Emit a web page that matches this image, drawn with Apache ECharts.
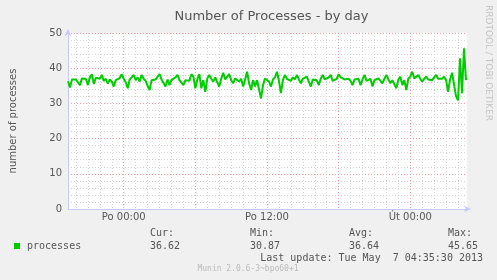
<!DOCTYPE html>
<html><head><meta charset="utf-8">
<script src="https://cdn.jsdelivr.net/npm/echarts@6/dist/echarts.min.js"></script>
<style>html,body{margin:0;padding:0;background:#f0f0f0}#c{width:497px;height:280px}</style>
</head><body><div id="c"></div><script>
// time of first sample, in hours relative to "Po 00:00", and sample step (10 min)
const startHour = -4.6667;
const stepHour = 1 / 6;
const endHour = 28.75;
const values = [
 36.3,34.5,36.8,36.8,36.8,36.8,35.2,37.1,36.6,37.0,
 35.2,37.4,38.3,35.5,37.3,36.8,37.0,38.1,36.4,37.0,
 35.6,36.8,36.2,34.8,36.6,36.3,37.2,38.3,37.0,36.0,
 34.3,36.8,37.4,38.1,36.6,37.4,36.2,38.1,37.0,36.4,
 35.0,33.8,36.6,36.8,36.8,37.0,38.3,36.8,36.4,34.8,
 36.8,35.2,36.6,36.2,37.4,38.1,36.6,36.8,35.2,36.6,
 37.0,36.4,38.3,37.6,34.3,36.8,38.3,34.3,36.6,33.3,
 37.1,38.1,37.0,36.2,37.4,36.0,34.8,37.0,38.7,36.8,
 37.6,38.3,36.6,35.7,37.1,36.6,36.2,37.0,34.8,36.8,
 39.0,35.7,33.8,36.6,34.8,36.6,36.2,31.4,35.2,37.1,
 36.6,36.2,34.8,36.8,37.4,39.0,36.4,32.9,36.6,38.1,
 37.0,37.1,36.4,37.4,36.8,38.1,36.8,35.7,37.0,36.6,
 37.6,36.2,34.8,36.8,37.0,36.6,35.2,37.0,38.1,36.8,
 36.6,37.4,38.1,36.4,36.6,37.0,38.3,37.4,37.1,36.8,
 36.6,37.0,36.4,35.2,36.8,36.6,37.0,35.2,36.8,38.1,
 36.4,36.2,37.0,34.8,36.6,36.8,37.1,36.4,35.7,37.0,
 38.1,36.8,35.7,36.6,36.2,34.3,36.8,37.6,35.2,36.6,
 33.8,37.0,37.6,39.0,37.1,36.6,38.1,37.0,36.2,37.0,
 37.6,36.8,37.1,36.6,37.4,38.1,37.0,36.8,37.0,37.6,
 36.6,33.3,36.8,38.7,39.2,32.0,30.87,42.8,32.9,45.65,
 36.62
];
const xLabelValues = [0, 12, 24];
const xLabelTexts = ['Po 00:00', 'Po 12:00', 'Út 00:00'];
const majorHours = [0, 6, 12, 18, 24];
const seriesName = 'processes';
const statLabels = ['Cur:', 'Min:', 'Avg:', 'Max:'];
const statValues = ['36.62', '30.87', '36.64', '45.65'];
const titleText = 'Number of Processes - by day';
const yAxisName = 'number of processes';
const lastUpdate = 'Last update: Tue May  7 04:35:30 2013';
const footer = 'Munin 2.0.6-3~bpo60+1';
const sideText = 'RRDTOOL / TOBI OETIKER';

const hourTicks = [];
for (let h = Math.ceil(startHour); h <= endHour; h++) hourTicks.push(h);
const data = values.map((v, i) => [startHour + i * stepHour, v]);

const green = '#00cc00';
const axisCol = '#c8c8ff';
const txt = '#555';
const mono = '"DejaVu Sans Mono", monospace';
const sans = '"DejaVu Sans", sans-serif';
const statX = [150, 250, 349, 448];

const graphics = [
  {type:'rect', shape:{x:14,y:243,width:6,height:6}, style:{fill:green}},
  {type:'text', x:27, y:246, style:{text:seriesName, font:'10px ' + mono, fill:txt, textVerticalAlign:'middle'}},
  {type:'text', x:483, y:258, style:{text:lastUpdate, font:'10px ' + mono, fill:txt, textAlign:'right', textVerticalAlign:'middle'}},
  {type:'text', x:248, y:269, style:{text:footer, font:'8px ' + mono, fill:'#bbb', textAlign:'center', textVerticalAlign:'middle'}},
  {type:'text', x:488, y:5, rotation:-Math.PI/2, style:{text:sideText, font:'9px ' + sans, fill:'#c4c4c4', textAlign:'left', textVerticalAlign:'middle'}}
];
statLabels.forEach((l, i) => {
  graphics.push({type:'text', x:statX[i], y:233, style:{text:l, font:'10px ' + mono, fill:txt, textVerticalAlign:'middle'}});
  graphics.push({type:'text', x:statX[i], y:246, style:{text:statValues[i], font:'10px ' + mono, fill:txt, textVerticalAlign:'middle'}});
});

const chart = echarts.init(document.getElementById('c'), null, {renderer:'canvas'});
chart.setOption({
  backgroundColor: '#f0f0f0',
  animation: false,
  title: {text: titleText, left: 266.5, textAlign: 'center', top: 5,
    textStyle: {fontFamily: sans, fontSize: 13, fontWeight: 'normal', color: '#555'}},
  grid: {left: 66, right: 30, top: 33, bottom: 71, show: true, backgroundColor: '#fff', borderWidth: 0},
  xAxis: [
    {type:'value', min:startHour, max:endHour, position:'bottom',
     axisLine:{show:true, onZero:false, lineStyle:{color:axisCol, width:1}, symbol:['none','arrow'], symbolSize:[5,7], symbolOffset:[0,4]},
     axisTick:{show:false, customValues:hourTicks},
     axisLabel:{show:false},
     splitLine:{show:true, lineStyle:{color:'#d4d4d4', type:[1,2], width:1}}},
    {type:'value', min:startHour, max:endHour, position:'bottom',
     axisLine:{show:false, onZero:false},
     axisTick:{show:false, customValues:majorHours},
     axisLabel:{show:true, customValues:xLabelValues, margin:3, color:txt, fontFamily:sans, fontSize:10,
       formatter: v => { const k = xLabelValues.findIndex(x => Math.abs(x - v) < 1e-6); return k >= 0 ? xLabelTexts[k] : ''; }},
     splitLine:{show:true, lineStyle:{color:'#f5a0a0', type:[1,2], width:1}}}
  ],
  yAxis: {type:'value', min:0, max:50, interval:10,
    name: yAxisName, nameLocation:'middle', nameGap:50, nameTextStyle:{color:txt, fontFamily:sans, fontSize:10},
    axisLine:{show:true, onZero:false, lineStyle:{color:axisCol, width:1}, symbol:['none','arrow'], symbolSize:[5,7], symbolOffset:[0,4]},
    axisTick:{show:false},
    axisLabel:{color:txt, fontFamily:sans, fontSize:10, margin:6},
    splitLine:{show:true, lineStyle:{color:'#f5a0a0', type:[1,2], width:1}},
    minorTick:{show:false, splitNumber:5},
    minorSplitLine:{show:true, lineStyle:{color:'#d4d4d4', type:[1,2], width:1}}},
  series: [{type:'line', name:seriesName, xAxisIndex:0, data:data, showSymbol:false, symbol:'none',
    lineStyle:{color:green, width:2}, itemStyle:{color:green}, z:5}],
  graphic: graphics
});
</script></body></html>
